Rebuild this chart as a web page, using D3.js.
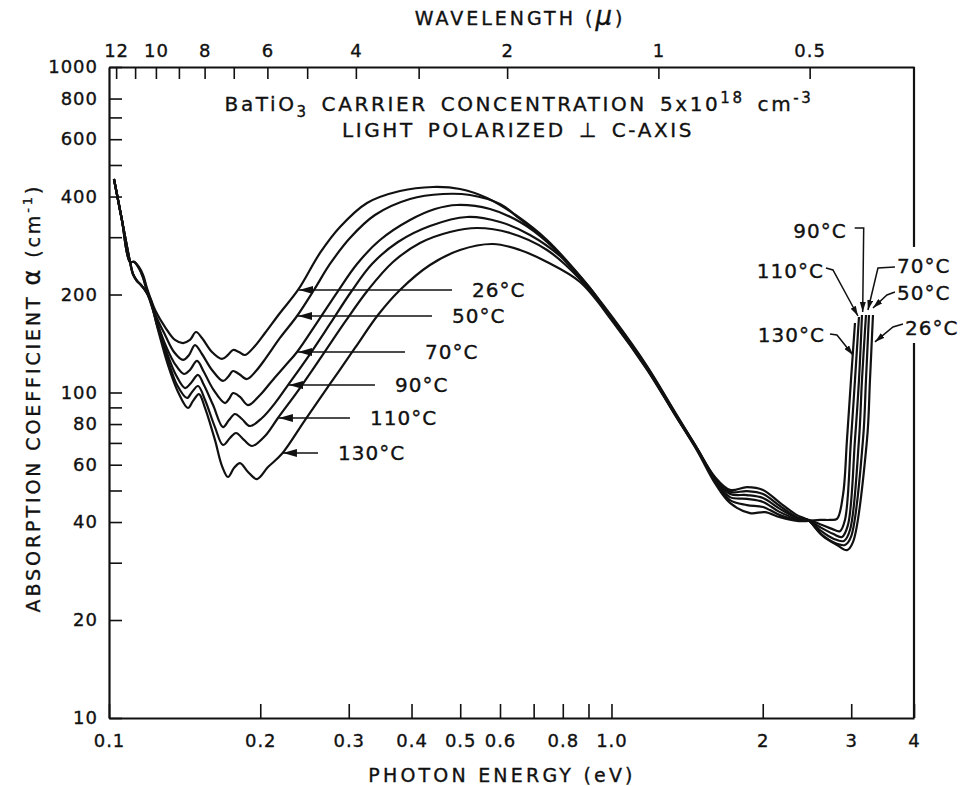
<!DOCTYPE html>
<html>
<head>
<meta charset="utf-8">
<script src="https://cdn.jsdelivr.net/npm/d3@7"></script>
<style>
  body { margin: 0; background: #fff; }
  svg text { font-family: "DejaVu Sans", sans-serif; fill: #111; stroke: #111; stroke-width: 0.35px; }
</style>
</head>
<body>
<svg id="chart"></svg>
<script>
// photon energy (eV) vs absorption coefficient (cm^-1)
var temps = ["26°C", "50°C", "70°C", "90°C", "110°C", "130°C"];

// all six curves share this start
var sharedStart = [[0.1023, 453], [0.1061, 339], [0.1101, 252]];

var c26 = [[0.1121,252],[0.1147,243],[0.1169,229.6],[0.1190,209.4],[0.1207,196.5],[0.1235,179.3],[0.1293,158.9],[0.1353,145.0],[0.1404,141.9],[0.1449,145.0],[0.1490,153.4],[0.1531,147.1],[0.1603,133.2],[0.1678,126.8],[0.1725,130.4],[0.1765,135.1],[0.1814,133.2],[0.1865,130.4],[0.1952,139.0],[0.2044,152.3],[0.2189,175.5],[0.2378,206.5],[0.2630,268.3],[0.2882,322.4],[0.3262,382.1],[0.3794,415.9],[0.4414,427.9],[0.4995,421.9],[0.5653,395.9],[0.6486,348.5],[0.7442,294.1],[0.8657,228.0],[1.0069,169.4],[1.1767,120.6],[1.3378,87.1],[1.4795,67.5],[1.6067,55.0],[1.7211,50.2],[1.8606,51.2],[2.0023,50.2],[2.1645,45.8],[2.3399,42.0],[2.4607,40.6],[2.6358,36.2],[2.8104,34.0],[2.9422,32.8],[3.0242,34.7],[3.2246,71.5],[3.2692,109.2],[3.3144,173.0]];

var c50 = [[0.1121,252],[0.1147,241],[0.1169,226.4],[0.1190,206.5],[0.1207,193.8],[0.1240,171.8],[0.1293,150.2],[0.1347,133.2],[0.1404,125.9],[0.1443,130.4],[0.1483,139.9],[0.1531,131.3],[0.1603,117.3],[0.1686,108.5],[0.1725,111.6],[0.1765,116.4],[0.1814,114.0],[0.1882,110.0],[0.1961,116.4],[0.2053,127.7],[0.2189,147.1],[0.2367,171.8],[0.2558,206.5],[0.2753,248.2],[0.3017,298.3],[0.3383,351.0],[0.3972,393.1],[0.4621,407.2],[0.5229,404.3],[0.6000,379.4],[0.6576,341.2],[0.7442,292.0],[0.8657,226.4],[1.0069,168.2],[1.1767,119.8],[1.3378,86.5],[1.4795,67.5],[1.6067,54.6],[1.7211,49.5],[1.8606,49.8],[2.0023,48.8],[2.1645,44.8],[2.3399,41.4],[2.4607,40.6],[2.5998,37.0],[2.7848,34.5],[2.9154,34.0],[2.9966,36.0],[3.1660,71.5],[3.2098,109.2],[3.2543,173.0]];

var c70 = [[0.1121,252],[0.1147,241],[0.1169,224.8],[0.1190,203.6],[0.1207,191.0],[0.1246,164.7],[0.1298,139.0],[0.1353,122.3],[0.1410,114.0],[0.1449,117.3],[0.1497,125.0],[0.1545,115.6],[0.1611,102.5],[0.1702,92.8],[0.1733,95.5],[0.1765,99.6],[0.1823,96.9],[0.1891,91.5],[0.1998,98.2],[0.2110,108.5],[0.2240,120.6],[0.2367,133.2],[0.2606,165.8],[0.2856,205.0],[0.3116,248.2],[0.3462,294.1],[0.3972,338.8],[0.4454,366.2],[0.4927,376.7],[0.5731,366.2],[0.6576,334.0],[0.7442,290.0],[0.8657,224.8],[1.0069,167.0],[1.1767,118.9],[1.3378,85.9],[1.4795,67.1],[1.6067,54.2],[1.7211,48.8],[1.8606,48.4],[2.0023,47.4],[2.1645,43.9],[2.3399,41.2],[2.4607,40.6],[2.5998,37.8],[2.7721,35.5],[2.9020,35.0],[2.9829,37.8],[3.1085,71.5],[3.1516,109.2],[3.2098,173.0]];

var c90 = [[0.1116,231.2],[0.1137,220.1],[0.1158,213.9],[0.1179,206.5],[0.1207,195.1],[0.1246,164.7],[0.1298,135.1],[0.1359,113.2],[0.1417,103.2],[0.1456,107.0],[0.1504,113.2],[0.1545,105.4],[0.1611,91.5],[0.1686,78.3],[0.1733,82.3],[0.1781,85.9],[0.1839,82.9],[0.1908,78.9],[0.2016,83.5],[0.2140,92.8],[0.2271,105.4],[0.2512,131.3],[0.2753,162.4],[0.3031,203.6],[0.3337,248.2],[0.3759,290.0],[0.4353,324.7],[0.5158,346.1],[0.6000,334.0],[0.6884,304.7],[0.7899,262.6],[0.9063,209.4],[1.0069,165.8],[1.1767,118.1],[1.3378,85.9],[1.4795,67.1],[1.6067,54.0],[1.7211,47.7],[1.8606,47.1],[2.0023,46.1],[2.1645,42.9],[2.3399,40.9],[2.4607,40.6],[2.5998,38.6],[2.7594,36.8],[2.8756,36.0],[2.9557,39.2],[3.0521,71.5],[3.1085,109.2],[3.1516,173.0]];

var c110 = [[0.1116,231.2],[0.1137,220.1],[0.1158,213.9],[0.1179,206.5],[0.1207,193.8],[0.1246,161.2],[0.1304,128.6],[0.1366,105.4],[0.1430,96.2],[0.1463,100.4],[0.1504,104.7],[0.1553,94.8],[0.1625,78.3],[0.1686,69.0],[0.1741,72.5],[0.1790,75.1],[0.1856,71.5],[0.1926,68.5],[0.2044,73.5],[0.2169,83.5],[0.2399,103.2],[0.2654,129.5],[0.2949,164.7],[0.3277,206.5],[0.3674,251.7],[0.4158,287.9],[0.4771,311.2],[0.5400,320.2],[0.6281,309.0],[0.7442,274.0],[0.8657,223.0],[1.0069,167.0],[1.1767,118.9],[1.3378,85.6],[1.4795,66.8],[1.6067,53.6],[1.7211,46.7],[1.8606,45.1],[2.0023,44.5],[2.1645,42.0],[2.3399,40.6],[2.4607,40.6],[2.5998,39.4],[2.7468,38.1],[2.8493,37.5],[2.9154,40.6],[2.9966,71.5],[3.0521,109.2],[3.1085,170.6]];

var c130 = [[0.1116,231.2],[0.1137,220.1],[0.1158,213.9],[0.1179,206.5],[0.1207,192.4],[0.1252,155.6],[0.1310,121.5],[0.1372,100.4],[0.1436,89.6],[0.1470,94.2],[0.1510,98.9],[0.1553,89.6],[0.1625,71.5],[0.1678,59.5],[0.1725,55.0],[0.1773,58.6],[0.1823,60.7],[0.1891,57.0],[0.1970,54.2],[0.2072,59.0],[0.2209,64.8],[0.2455,82.3],[0.2753,106.2],[0.3087,137.0],[0.3430,173.0],[0.3794,206.5],[0.4353,246.4],[0.4995,274.0],[0.5810,285.9],[0.6576,274.0],[0.7442,251.7],[0.8657,218.5],[1.0069,164.7],[1.1767,117.6],[1.3378,85.3],[1.4795,66.4],[1.6067,52.7],[1.7211,45.8],[1.8864,42.6],[2.0207,42.9],[2.1645,41.4],[2.3399,40.3],[2.4607,40.3],[2.5998,40.6],[2.7218,40.6],[2.8104,40.9],[2.8888,48.4],[2.9422,71.5],[2.9966,109.2],[3.0521,163.5]];

var allCurves = [c26, c50, c70, c90, c110, c130];

// tick values and labels
var energyTicks = [0.1, 0.2, 0.3, 0.4, 0.5, 0.6, 0.7, 0.8, 0.9, 1, 2, 3, 4];
var energyTickLabels = ["0.1", "0.2", "0.3", "0.4", "0.5", "0.6", "", "0.8", "", "1.0", "2", "3", "4"];
var alphaTicks = [10, 20, 30, 40, 50, 60, 70, 80, 90, 100, 200, 300, 400, 500, 600, 700, 800, 1000];
var alphaTickLabels = ["10", "20", "", "40", "", "60", "", "80", "", "100", "200", "", "400", "", "600", "", "800", "1000"];
var lambdaTicks = [12, 11, 10, 9, 8, 7, 6, 5, 4, 3, 2, 1, 0.5];
var lambdaTickLabels = ["12", "", "10", "", "8", "", "6", "", "4", "", "2", "1", "0.5"];

// arrow annotations: left group (tip on curve, tail energy)
var leftTips = [[0.2378, 206.5], [0.2367, 171.8], [0.2367, 133.2], [0.2271, 105.4], [0.2169, 83.5], [0.2209, 65.2]];
var leftTails = [0.4815, 0.4393, 0.3882, 0.3383, 0.3017, 0.2606];

// arrow annotations at the absorption edge
var edgeLabels = ["90°C", "110°C", "130°C", "70°C", "50°C", "26°C"];
var edgeTips = [[3.162, 175.5], [3.094, 171.8], [3.024, 130.4], [3.239, 179.3], [3.314, 181.8], [3.345, 143.0]];

// alpha range where the right frame line is broken for the labels
var frameGap = [142, 280];

/*----------------------------------------------------------------------------*/

var svgWidth = 964;
var svgHeight = 786;

var margin = { top: 67, right: 50, bottom: 68, left: 109 };
var width = svgWidth - margin.left - margin.right;
var height = svgHeight - margin.top - margin.bottom;

var svg = d3.select("#chart")
  .attr("width", svgWidth)
  .attr("height", svgHeight);

var chartGroup = svg.append("g")
  .attr("transform", `translate(${margin.left}, ${margin.top})`);

var xLogScale = d3.scaleLog().domain([0.1, 4]).range([0, width]);
var yLogScale = d3.scaleLog().domain([10, 1000]).range([height, 0]);
// wavelength (micron) = 1.2398 / E
var lamScale = d3.scaleLog().domain([1.2398 / 0.1, 1.2398 / 4]).range([0, width]);

// arrow heads
var defs = svg.append("defs");
defs.append("marker")
  .attr("id", "headBig")
  .attr("viewBox", "0 0 14 8")
  .attr("refX", 14).attr("refY", 4)
  .attr("markerWidth", 14).attr("markerHeight", 8)
  .attr("markerUnits", "userSpaceOnUse")
  .attr("orient", "auto")
  .append("path").attr("d", "M0,0L14,4L0,8Z").attr("fill", "#111");
defs.append("marker")
  .attr("id", "headSmall")
  .attr("viewBox", "0 0 10 6")
  .attr("refX", 10).attr("refY", 3)
  .attr("markerWidth", 10).attr("markerHeight", 6)
  .attr("markerUnits", "userSpaceOnUse")
  .attr("orient", "auto")
  .append("path").attr("d", "M0,0L10,3L0,6Z").attr("fill", "#111");

function styleAxis(g) {
  g.attr("font-family", "DejaVu Sans, sans-serif").attr("font-size", 18);
  g.select(".domain").attr("stroke", "#111").attr("stroke-width", 2.2);
  g.selectAll(".tick line").attr("stroke", "#111").attr("stroke-width", 1.6);
  g.selectAll(".tick text").attr("fill", "#111").style("letter-spacing", "1px");
}

// bottom axis - photon energy
var bottomAxis = d3.axisBottom(xLogScale)
  .tickValues(energyTicks)
  .tickSize(-14).tickSizeOuter(0).tickPadding(16)
  .tickFormat((d, i) => energyTickLabels[i]);
chartGroup.append("g")
  .attr("transform", `translate(0, ${height})`)
  .call(bottomAxis)
  .call(styleAxis);

// left axis - absorption coefficient
var leftAxis = d3.axisLeft(yLogScale)
  .tickValues(alphaTicks)
  .tickSize(-13).tickSizeOuter(0).tickPadding(11)
  .tickFormat((d, i) => alphaTickLabels[i]);
chartGroup.append("g")
  .call(leftAxis)
  .call(styleAxis);

// top axis - wavelength
var topAxis = d3.axisTop(lamScale)
  .tickValues(lambdaTicks)
  .tickSize(-12).tickSizeOuter(0).tickPadding(10)
  .tickFormat((d, i) => lambdaTickLabels[i]);
chartGroup.append("g")
  .call(topAxis)
  .call(styleAxis);

// right frame, broken where the labels sit
chartGroup.append("line")
  .attr("x1", width).attr("x2", width)
  .attr("y1", 0).attr("y2", yLogScale(frameGap[1]))
  .attr("stroke", "#111").attr("stroke-width", 2.2);
chartGroup.append("line")
  .attr("x1", width).attr("x2", width)
  .attr("y1", yLogScale(frameGap[0])).attr("y2", height)
  .attr("stroke", "#111").attr("stroke-width", 2.2);

// curves
var lineGen = d3.line()
  .x(d => xLogScale(d[0]))
  .y(d => yLogScale(d[1]))
  .curve(d3.curveCatmullRom.alpha(0.5));

chartGroup.selectAll(".tempCurve")
  .data(allCurves)
  .enter()
  .append("path")
  .attr("class", "tempCurve")
  .attr("d", d => lineGen(sharedStart.concat(d)))
  .attr("fill", "none")
  .attr("stroke", "#111")
  .attr("stroke-width", 2.2)
  .attr("stroke-linejoin", "round");

// left labels with horizontal arrows
leftTips.forEach(function(tip, i) {
  var tx = xLogScale(tip[0]);
  var ty = yLogScale(tip[1]);
  var ex = xLogScale(leftTails[i]);
  chartGroup.append("line")
    .attr("x1", ex).attr("y1", ty)
    .attr("x2", tx + 1).attr("y2", ty)
    .attr("stroke", "#111").attr("stroke-width", 1.5)
    .attr("marker-end", "url(#headBig)");
  chartGroup.append("text")
    .attr("x", ex + 20).attr("y", ty + 7)
    .attr("font-size", 20)
    .style("letter-spacing", "1px")
    .text(temps[i]);
});

// labels at the absorption edge: leader offsets from the tip, text offset
var edgeLayout = [
  { leader: [[-8, -85], [1, -85], [0, -1]], text: [-16, -75], anchor: "end" },
  { leader: [[-32, -48], [-25, -46], [0, 0]], text: [-34, -38], anchor: "end" },
  { leader: [[-23, -21], [-16, -20], [0, 0]], text: [-28, -13], anchor: "end" },
  { leader: [[27, -43], [10, -42], [0, 0]], text: [29, -37], anchor: "start" },
  { leader: [[22, -16], [14, -13], [0, 0]], text: [24, -8], anchor: "start" },
  { leader: [[28, -18], [18, -15], [0, 0]], text: [30, -7], anchor: "start" }
];

var leaderGen = d3.line();
edgeTips.forEach(function(tip, i) {
  var tx = xLogScale(tip[0]);
  var ty = yLogScale(tip[1]);
  var lay = edgeLayout[i];
  chartGroup.append("path")
    .attr("d", leaderGen(lay.leader.map(p => [tx + p[0], ty + p[1]])))
    .attr("fill", "none")
    .attr("stroke", "#111").attr("stroke-width", 1.5)
    .attr("marker-end", "url(#headSmall)");
  chartGroup.append("text")
    .attr("x", tx + lay.text[0]).attr("y", ty + lay.text[1])
    .attr("text-anchor", lay.anchor)
    .attr("font-size", 20)
    .style("letter-spacing", "1px")
    .text(edgeLabels[i]);
});

// titles inside the plot
var t1 = svg.append("text")
  .attr("x", 519).attr("y", 111)
  .attr("text-anchor", "middle")
  .attr("font-size", 20)
  .style("letter-spacing", "2.6px")
  .style("word-spacing", "4px");
t1.append("tspan").text("BaTiO");
t1.append("tspan").attr("dy", 6).attr("font-size", 15).text("3");
t1.append("tspan").attr("dy", -6).text(" CARRIER CONCENTRATION 5x10");
t1.append("tspan").attr("dy", -8).attr("font-size", 15).text("18");
t1.append("tspan").attr("dy", 8).text(" cm");
t1.append("tspan").attr("dy", -8).attr("font-size", 15).text("-3");

svg.append("text")
  .attr("x", 518).attr("y", 137)
  .attr("text-anchor", "middle")
  .attr("font-size", 20)
  .style("letter-spacing", "2.6px")
  .style("word-spacing", "4px")
  .text("LIGHT POLARIZED \u22A5 C-AXIS");

// axis titles
var topTitle = svg.append("text")
  .attr("x", 520).attr("y", 25)
  .attr("text-anchor", "middle")
  .attr("font-size", 19)
  .style("letter-spacing", "3px");
topTitle.append("tspan").text("WAVELENGTH (");
topTitle.append("tspan").attr("font-style", "italic").attr("font-size", 26).text("\u03BC");
topTitle.append("tspan").text(")");

svg.append("text")
  .attr("x", 502).attr("y", 782)
  .attr("text-anchor", "middle")
  .attr("font-size", 19)
  .style("letter-spacing", "3.2px")
  .text("PHOTON ENERGY (eV)");

var yTitle = svg.append("text")
  .attr("transform", "translate(40, 398) rotate(-90)")
  .attr("text-anchor", "middle")
  .attr("font-size", 19)
  .style("letter-spacing", "2.9px");
yTitle.append("tspan").text("ABSORPTION COEFFICIENT ");
yTitle.append("tspan").attr("font-size", 24).text("\u03B1");
yTitle.append("tspan").text(" (cm");
yTitle.append("tspan").attr("dy", -8).attr("font-size", 13).text("-1");
yTitle.append("tspan").attr("dy", 8).text(")");
</script>
</body>
</html>
